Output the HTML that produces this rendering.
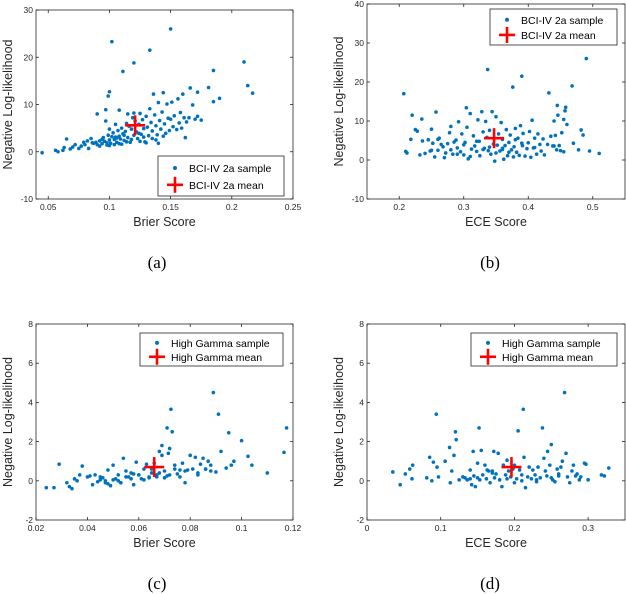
<!DOCTYPE html>
<html><head><meta charset="utf-8"><style>
body{margin:0;background:#fff;}
svg{display:block;font-family:"Liberation Sans",sans-serif;}
.tk{font-size:8.5px;fill:#262626;}
.al{font-size:12.5px;fill:#262626;}
.cap{font-family:"Liberation Serif",serif;font-size:17px;fill:#000;}
.lg{font-size:10.5px;fill:#000;}
</style></head><body>
<svg id="fig" width="626" height="594"></svg>
<script>
const aX=[0.045,0.056,0.058,0.063,0.065,0.062,0.068,0.07,0.072,0.075,0.077,0.079,0.08,0.082,0.083,0.085,0.087,0.089,0.09,0.092,0.094,0.095,0.096,0.098,0.099,0.1,0.101,0.102,0.103,0.104,0.105,0.106,0.107,0.108,0.109,0.11,0.111,0.112,0.113,0.114,0.115,0.116,0.117,0.118,0.119,0.12,0.121,0.122,0.123,0.124,0.125,0.126,0.127,0.128,0.129,0.13,0.131,0.132,0.133,0.134,0.135,0.136,0.137,0.138,0.139,0.14,0.141,0.142,0.143,0.144,0.145,0.146,0.147,0.148,0.149,0.15,0.151,0.152,0.153,0.155,0.156,0.157,0.158,0.159,0.16,0.161,0.162,0.163,0.165,0.17,0.172,0.175,0.097,0.1,0.105,0.115,0.12,0.11,0.13,0.14,0.135,0.125,0.092,0.086,0.1,0.104,0.102,0.15,0.133,0.12,0.111,0.21,0.185,0.213,0.217,0.19,0.185,0.181,0.172,0.166,0.168,0.1,0.099,0.097,0.09,0.108,0.106,0.112,0.118,0.124,0.128,0.138,0.144,0.108,0.114,0.098,0.094];
const aY=[-0.2,0.3,0,0.9,2.7,0.3,0.6,1,1.5,0.7,1.2,2,1.5,2.3,0.7,2.8,1.8,2,1.5,2.3,1.7,3,2.2,1.4,3.5,2.5,1.8,3.2,4,2.6,3.1,2,4.5,3.3,2.7,5,3.8,2.4,4.3,6,3,5.4,2,4.8,7.2,3.5,6.5,4.2,2.8,5.8,8.1,3.7,6.8,4.9,2.1,7.5,5.2,3.4,9.1,6.2,4.4,12.2,7.8,5.5,3.6,10.4,6.6,4.8,8.4,12.5,5.9,3.9,10.1,7.1,4.5,6.9,10.5,5.3,7.6,4.7,11.2,6.1,8.3,5,12.2,7.2,3,6.3,7.2,6.9,7.5,6.7,6.5,4.8,5.8,8,8.2,1.6,1.9,1.8,2.8,2.2,1.2,1.9,1.3,1.5,23.3,26,21.5,18.8,17,19,17.2,14,12.4,11.3,10.6,13.6,12.6,13.5,9.9,12.7,11.8,8.9,8,8.8,2.9,3.5,2.6,3.9,3.1,2.5,3.3,1.7,2.1,1.9,2.6];
const bX=[0.207,0.21,0.212,0.218,0.22,0.225,0.228,0.232,0.235,0.236,0.24,0.245,0.248,0.25,0.252,0.255,0.257,0.26,0.262,0.265,0.268,0.27,0.272,0.275,0.278,0.28,0.283,0.285,0.288,0.29,0.292,0.295,0.297,0.3,0.302,0.304,0.305,0.307,0.31,0.312,0.315,0.317,0.32,0.322,0.324,0.325,0.328,0.33,0.332,0.334,0.336,0.337,0.338,0.34,0.342,0.344,0.346,0.348,0.35,0.352,0.354,0.356,0.358,0.36,0.362,0.364,0.366,0.368,0.37,0.372,0.374,0.376,0.377,0.378,0.38,0.382,0.384,0.386,0.388,0.39,0.391,0.392,0.395,0.398,0.4,0.402,0.404,0.406,0.408,0.41,0.413,0.415,0.418,0.42,0.423,0.425,0.43,0.432,0.435,0.438,0.44,0.442,0.444,0.445,0.446,0.448,0.45,0.452,0.455,0.457,0.458,0.46,0.468,0.47,0.478,0.482,0.485,0.49,0.495,0.51,0.25,0.26,0.28,0.3,0.31,0.33,0.35,0.36,0.37,0.38,0.39,0.41,0.44,0.455,0.29,0.32,0.34,0.36];
const bY=[17,2.2,1.8,5.3,11.5,7.8,7.4,1.3,10.5,4.9,1.7,5.2,2.3,7.9,4.3,0.8,12.3,2.5,5.6,4,3.4,0.6,1.8,4.2,7,2.6,1.5,4.6,5.1,3.1,9.8,2.1,6.7,1.3,4.5,13.4,8.4,0.3,11.9,2.8,6.2,3.6,2.2,10.3,4.8,1.1,12.4,7.2,3,9.9,5.8,23.2,2.4,7.6,1.5,12.4,4.1,-0.3,11.1,3.8,6.7,2.3,9.6,5.3,0.2,3.7,7.8,1.1,4.5,6.4,2.6,18.7,0.8,3.4,8.1,2,5.6,1.2,8.8,21.5,3.7,6.8,1,2.9,4.4,7.3,0.7,10.2,3.1,5.6,1.5,6.7,4,2.3,5.4,1.3,4,17.2,6.1,3.6,10,6.3,2.6,14,11.5,3.7,2.4,7,10.4,12.6,13.5,9.1,19,4.3,2.6,7.7,6.4,26,2.3,1.7,2.5,5.3,8.6,3.9,0.9,2.7,1.8,3,2,5.2,4.3,3.2,3.6,2.1,1.5,4.8,3.3,2.7];
const cX=[0.024,0.027,0.029,0.032,0.033,0.034,0.035,0.036,0.037,0.038,0.04,0.041,0.042,0.043,0.044,0.045,0.046,0.047,0.048,0.049,0.05,0.051,0.052,0.053,0.054,0.055,0.056,0.057,0.058,0.059,0.06,0.061,0.062,0.063,0.064,0.065,0.066,0.067,0.068,0.069,0.07,0.071,0.072,0.0725,0.073,0.074,0.075,0.076,0.077,0.078,0.079,0.08,0.081,0.082,0.083,0.084,0.085,0.086,0.087,0.088,0.089,0.09,0.091,0.092,0.094,0.095,0.096,0.097,0.1,0.1025,0.104,0.11,0.1165,0.1175,0.045,0.048,0.05,0.052,0.055,0.057,0.06,0.062,0.065,0.067,0.07,0.072,0.074,0.076,0.078,0.083,0.086,0.088,0.071,0.0715,0.069,0.068,0.064,0.058,0.053,0.047];
const cY=[-0.35,-0.35,0.85,-0.1,-0.3,-0.4,0.1,0,0.3,0.75,0.2,0.25,-0.2,0.3,-0.05,0.05,0.15,-0.1,0.55,-0.25,0.8,0.1,0.3,-0.1,1.15,0.5,0.2,0.4,-0.2,0.95,0.3,0.1,0.6,0.85,0.15,0.4,0.9,0.3,1.5,1.8,0.5,0.25,1.65,3.65,2.5,0.8,0.35,0.55,0.9,-0.1,0.55,1.3,0.6,1.2,0.3,0.85,1.15,0.6,1,0.5,4.5,0.45,3.4,1.5,0.65,2.45,0.8,1,2.05,1.25,0.8,0.4,1.45,2.7,0.2,-0.15,0.05,0,0.2,0.1,0.3,0.05,0.6,0.2,0.15,0.3,0.6,0.2,0.5,0.4,0.6,0.8,2.7,1.4,1.3,0.4,0.2,0.35,-0.1,0];
const dX=[0.035,0.045,0.052,0.058,0.061,0.062,0.081,0.085,0.088,0.09,0.094,0.095,0.097,0.106,0.112,0.113,0.115,0.118,0.12,0.121,0.125,0.13,0.133,0.136,0.14,0.142,0.144,0.145,0.147,0.15,0.152,0.153,0.155,0.157,0.16,0.162,0.163,0.165,0.167,0.17,0.172,0.173,0.175,0.178,0.18,0.183,0.185,0.188,0.19,0.192,0.195,0.198,0.2,0.203,0.205,0.207,0.21,0.212,0.213,0.215,0.218,0.22,0.223,0.225,0.228,0.23,0.232,0.235,0.238,0.24,0.242,0.244,0.245,0.248,0.25,0.252,0.255,0.258,0.26,0.263,0.265,0.268,0.27,0.272,0.275,0.278,0.28,0.283,0.285,0.288,0.29,0.295,0.297,0.3,0.318,0.322,0.328,0.15,0.17,0.19,0.21,0.23,0.26,0.14,0.2,0.25];
const dY=[0.45,-0.2,0.35,0.6,0.1,0.8,0.15,1.2,0,0.95,3.4,0.7,0.2,1,1.7,-0.1,0.5,1.3,2.5,2.1,0.05,0.2,0.15,0.05,0.55,-0.2,1.5,0.25,-0.3,0.9,2.7,0.05,1.55,0.3,0.8,0.1,0.55,0.5,-0.1,0.5,1.5,0.15,0.35,1.4,0.05,-0.3,0.8,0.3,1.05,0.5,0.2,0.6,0.8,0.1,2.55,0.55,0,3.65,1.2,-0.35,0.2,0.7,0.1,0.55,0.3,-0.05,0.7,0.15,2.7,1.15,0.5,0.25,1.5,0.8,1.85,0.05,-0.05,0.6,0.35,0.7,1,4.5,1.4,0.2,-0.1,0.5,0.8,0.25,0.35,0.05,0.2,0.9,0.85,0.05,0.3,0.25,0.65,0.15,0.4,0.1,0.3,0.05,0.25,0.1,-0.1,0.15];
const aXT=["0.05","0.1","0.15","0.2","0.25"],aYT=["-10","0","10","20","30"];
const bXT=["0.2","0.3","0.4","0.5"],bYT=["-10","0","10","20","30","40"];
const cXT=["0.02","0.04","0.06","0.08","0.1","0.12"],cYT=["-2","0","2","4","6","8"];
const dXT=["0","0.1","0.2","0.3"],dYT=["-2","0","2","4","6","8"];
const means=[[0.121,5.6],[0.347,5.6],[0.066,0.7],[0.196,0.7]];

const NS="http://www.w3.org/2000/svg",svg=document.getElementById('fig');
function mk(t,a,p){const e=document.createElementNS(NS,t);for(const k in a)e.setAttribute(k,a[k]);(p||svg).appendChild(e);return e;}
const panels=[
{id:'a',xs:aX,ys:aY,xt:aXT,yt:aYT,xd:[0.04,0.25],yd:[-10,30],px:[36,293],py:[199,10],xl:'Brier Score',ds:'BCI-IV 2a',lg:[158,156,126,40],cap:[157,262],xlab:226},
{id:'b',xs:bX,ys:bY,xt:bXT,yt:bYT,xd:[0.15,0.55],yd:[-10,40],px:[367,625],py:[199,4],xl:'ECE Score',ds:'BCI-IV 2a',lg:[490,9,127,36],cap:[490,262],xlab:226},
{id:'c',xs:cX,ys:cY,xt:cXT,yt:cYT,xd:[0.02,0.12],yd:[-2,8],px:[36,293],py:[520,324],xl:'Brier Score',ds:'High Gamma',lg:[140,333,143,33],cap:[157,583],xlab:547},
{id:'d',xs:dX,ys:dY,xt:dXT,yt:dYT,xd:[0,0.35],yd:[-2,8],px:[367,625],py:[520,324],xl:'ECE Score',ds:'High Gamma',lg:[471,333,146,33],cap:[490,583],xlab:547}];
panels.forEach((P,pi)=>{
 const g=mk('g',{});
 
 
 const sx=v=>P.px[0]+(v-P.xd[0])/(P.xd[1]-P.xd[0])*(P.px[1]-P.px[0]);
 const sy=v=>P.py[0]+(v-P.yd[0])/(P.yd[1]-P.yd[0])*(P.py[1]-P.py[0]);
 const ax=mk('rect',{x:P.px[0],y:P.py[1],width:P.px[1]-P.px[0],height:P.py[0]-P.py[1],fill:'none',stroke:'#262626','stroke-width':0.8},g);
 
 
 P.xt.forEach(t=>{const x=sx(+t);
  mk('line',{x1:x,x2:x,y1:P.py[0],y2:P.py[0]-3,stroke:'#262626','stroke-width':0.8},g);
  mk('line',{x1:x,x2:x,y1:P.py[1],y2:P.py[1]+3,stroke:'#262626','stroke-width':0.8},g);
  const e=mk('text',{x:x,y:P.py[0]+11,'text-anchor':'middle',class:'tk'},g);e.textContent=t;
  
  });
 P.yt.forEach(t=>{const y=sy(+t);
  mk('line',{x1:P.px[0],x2:P.px[0]+3,y1:y,y2:y,stroke:'#262626','stroke-width':0.8},g);
  mk('line',{x1:P.px[1],x2:P.px[1]-3,y1:y,y2:y,stroke:'#262626','stroke-width':0.8},g);
  const e=mk('text',{x:P.px[0]-3,y:y+3,'text-anchor':'end',class:'tk'},g);e.textContent=t;
  
  });
 P.xs.forEach((v,i)=>{const c=mk('circle',{cx:sx(v),cy:sy(P.ys[i]),r:1.8,fill:'#0072BD'},g);
  
  });
 const mx=sx(means[pi][0]),my=sy(means[pi][1]);
 const mg=mk('g',{stroke:'#ff0000','stroke-width':2.6},g);
 
 
 mk('line',{x1:mx-10,x2:mx+10,y1:my,y2:my},mg);mk('line',{x1:mx,x2:mx,y1:my-10,y2:my+10},mg);
 const xl=mk('text',{x:(P.px[0]+P.px[1])/2,y:P.xlab,'text-anchor':'middle',class:'al'},g);xl.textContent=P.xl;
 
 
 const yc=(P.py[0]+P.py[1])/2,yx=P.px[0]-24;
 const yl=mk('text',{x:yx,y:yc,'text-anchor':'middle',class:'al',transform:`rotate(-90 ${yx} ${yc})`},g);yl.textContent='Negative Log-likelihood';
 
 
 const [lx,ly,lw,lh]=P.lg;
 const lgg=mk('g',{},g);
 
 
 mk('rect',{x:lx,y:ly,width:lw,height:lh,fill:'#fff',stroke:'#262626','stroke-width':0.8},lgg);
 const r1=ly+lh*0.3,r2=ly+lh*0.72;
 mk('circle',{cx:lx+17,cy:r1,r:2,fill:'#0072BD'},lgg);
 mk('line',{x1:lx+9,x2:lx+25,y1:r2,y2:r2,stroke:'#f00','stroke-width':2.6},lgg);
 mk('line',{x1:lx+17,x2:lx+17,y1:r2-8,y2:r2+8,stroke:'#f00','stroke-width':2.6},lgg);
 const t1=mk('text',{x:lx+31,y:r1+4,class:'lg'},lgg);t1.textContent=P.ds+' sample';
 
 
 const t2=mk('text',{x:lx+31,y:r2+4,class:'lg'},lgg);t2.textContent=P.ds+' mean';
 
 
 const cp=mk('text',{x:P.cap[0],y:P.cap[1]+6,'text-anchor':'middle',class:'cap'},g);cp.textContent='('+P.id+')';
 
 
});
</script>
</body></html>
